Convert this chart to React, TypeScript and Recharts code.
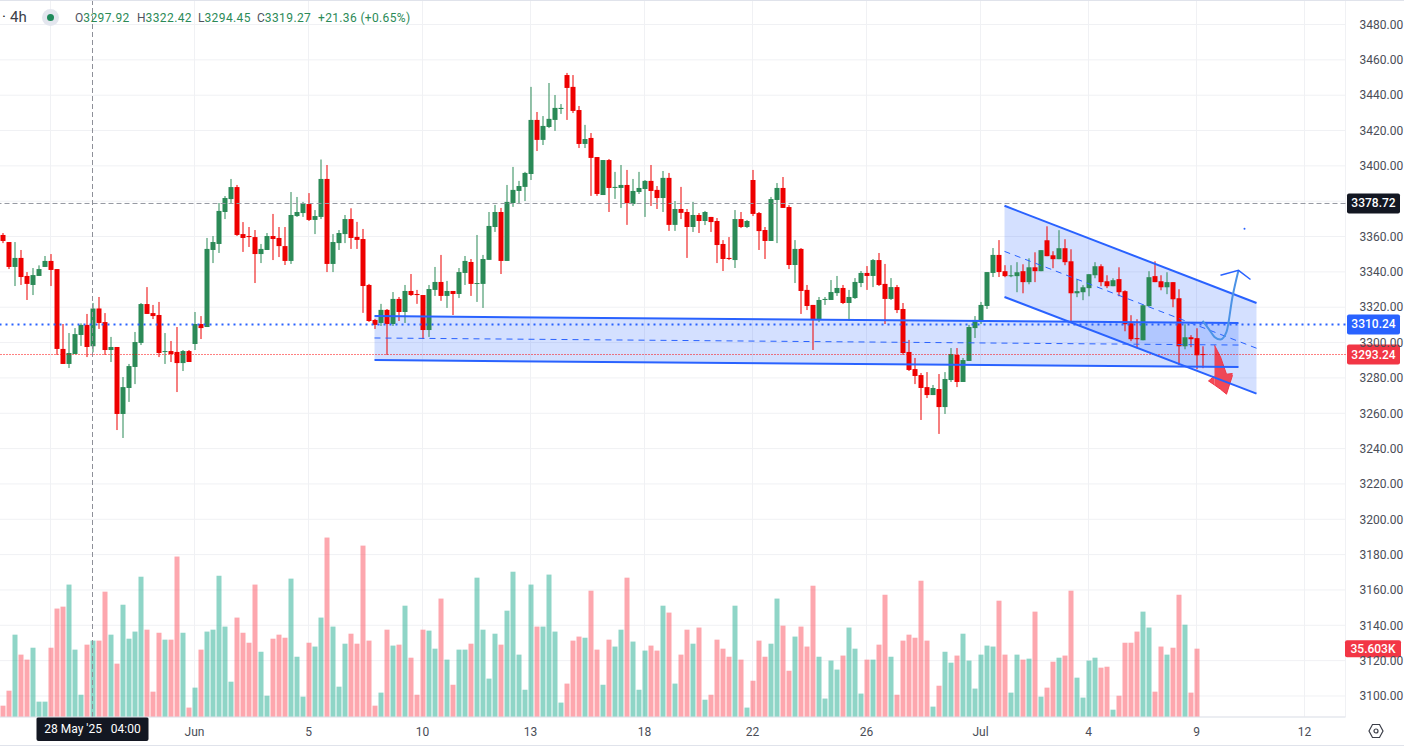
import React from "react";
import {
  Area,
  Bar,
  CartesianGrid,
  ComposedChart,
  Line,
  ReferenceDot,
  ReferenceLine,
  XAxis,
  YAxis,
} from "recharts";

// open, high, low, close for each 4h candle
const ohlc: number[][] = [
  [3360.9,3362.0,3356.3,3357.5],[3356.9,3356.9,3341.6,3342.8],[3342.8,3356.9,3332.0,3347.9],[3347.9,3352.4,3332.6,3337.1],
  [3337.7,3339.9,3324.1,3333.2],[3332.6,3342.2,3326.9,3338.2],[3337.7,3343.7,3337.7,3341.6],[3342.8,3349.0,3342.8,3346.2],
  [3346.2,3350.1,3332.0,3341.1],[3341.6,3341.6,3293.0,3296.4],[3296.4,3310.5,3287.9,3287.9],[3287.9,3305.4,3285.6,3294.1],
  [3293.5,3308.2,3293.5,3304.8],[3304.3,3310.9,3298.1,3310.0],[3310.0,3316.2,3291.8,3297.5],[3297.92,3322.42,3294.45,3319.27],
  [3319.3,3325.8,3307.7,3311.1],[3311.6,3316.7,3293.0,3295.8],[3295.8,3303.2,3289.0,3297.5],[3297.5,3297.5,3250.5,3259.6],
  [3259.6,3280.5,3246.0,3274.8],[3274.3,3287.9,3266.4,3286.7],[3286.2,3306.0,3276.5,3300.3],[3299.8,3322.4,3298.6,3321.8],
  [3321.8,3331.4,3316.2,3316.2],[3316.7,3321.3,3313.3,3315.0],[3315.6,3323.0,3291.8,3294.1],[3294.7,3305.4,3287.9,3295.2],
  [3295.2,3300.9,3289.0,3293.5],[3294.7,3308.8,3272.0,3288.4],[3288.4,3295.8,3283.9,3295.2],[3295.2,3295.8,3289.0,3289.0],
  [3299.2,3317.3,3295.8,3310.5],[3310.5,3315.0,3302.0,3308.2],[3308.8,3359.2,3308.8,3353.0],[3352.4,3360.3,3345.0,3356.9],
  [3355.8,3379.0,3350.7,3374.5],[3373.9,3382.9,3369.9,3381.8],[3381.2,3392.6,3379.0,3388.0],[3388.0,3389.2,3360.3,3360.9],
  [3361.4,3368.2,3351.3,3359.2],[3360.3,3365.4,3354.1,3359.7],[3359.7,3363.7,3333.7,3350.1],[3350.1,3355.8,3345.0,3353.0],
  [3352.4,3362.0,3352.4,3360.3],[3360.3,3372.8,3346.7,3358.6],[3359.2,3365.4,3348.4,3354.6],[3354.6,3365.4,3343.9,3346.2],
  [3346.2,3385.2,3344.5,3372.2],[3371.6,3382.4,3371.1,3373.9],[3373.3,3379.6,3371.1,3378.8],[3378.4,3384.6,3368.8,3369.4],
  [3369.4,3375.0,3361.4,3371.6],[3371.1,3403.6,3369.9,3392.6],[3392.6,3400.5,3339.9,3344.5],[3344.5,3361.4,3339.9,3356.9],
  [3356.3,3363.7,3352.4,3362.0],[3361.4,3372.2,3356.3,3369.9],[3369.9,3376.0,3353.0,3359.2],[3359.8,3368.3,3353.0,3358.1],
  [3358.6,3364.3,3316.8,3332.0],[3332.6,3333.2,3311.7,3312.2],[3312.8,3313.4,3307.7,3310.0],[3311.1,3321.9,3309.4,3318.5],
  [3318.5,3319.0,3293.0,3310.5],[3310.5,3328.6,3309.4,3324.7],[3324.7,3325.8,3312.2,3317.3],[3317.3,3332.6,3311.1,3329.2],
  [3329.2,3338.8,3326.4,3326.9],[3327.5,3329.8,3321.9,3326.9],[3326.9,3326.9,3302.0,3307.1],[3307.1,3332.6,3303.2,3330.3],
  [3329.8,3342.8,3326.4,3334.3],[3334.3,3349.6,3323.6,3326.4],[3326.4,3334.9,3319.6,3329.2],[3329.2,3329.2,3315.6,3327.5],
  [3327.5,3342.2,3325.2,3339.9],[3339.4,3349.0,3332.6,3346.2],[3345.6,3347.3,3326.4,3333.2],[3333.2,3360.9,3323.0,3333.7],
  [3333.2,3349.6,3319.6,3347.3],[3346.8,3373.9,3346.8,3366.0],[3365.4,3377.9,3362.6,3373.9],[3373.9,3376.2,3338.8,3346.2],
  [3346.2,3389.2,3346.2,3379.6],[3379.0,3399.4,3376.8,3386.4],[3385.8,3391.5,3378.4,3388.6],[3388.1,3396.6,3380.1,3396.0],
  [3395.4,3444.7,3392.0,3426.0],[3426.0,3430.5,3408.4,3414.7],[3414.7,3428.2,3411.8,3422.6],[3422.0,3446.9,3421.4,3426.6],
  [3426.0,3440.1,3419.8,3432.8],[3432.2,3435.0,3429.4,3432.8],[3451.4,3452.6,3426.0,3444.1],[3444.7,3451.4,3429.9,3431.1],
  [3431.6,3433.9,3410.1,3412.4],[3412.4,3423.2,3410.1,3415.2],[3415.8,3418.6,3383.0,3404.5],[3405.0,3405.0,3383.0,3384.1],
  [3383.5,3403.3,3383.5,3403.3],[3403.3,3403.9,3373.9,3387.5],[3387.5,3396.6,3381.3,3388.1],[3387.5,3400.5,3376.2,3389.2],
  [3389.2,3397.7,3366.6,3379.0],[3378.4,3392.6,3377.3,3385.8],[3385.2,3396.6,3384.1,3387.5],[3386.9,3392.0,3371.1,3391.5],
  [3391.5,3400.5,3377.3,3385.8],[3386.4,3388.6,3375.6,3381.8],[3381.8,3397.1,3373.9,3393.2],[3393.2,3396.0,3363.2,3366.6],
  [3366.6,3380.1,3363.2,3375.6],[3375.6,3388.1,3369.9,3373.4],[3373.9,3375.6,3347.9,3365.4],[3365.4,3379.6,3362.6,3372.2],
  [3372.2,3373.3,3362.0,3368.8],[3368.8,3374.5,3366.5,3373.9],[3371.1,3371.1,3362.6,3368.2],[3368.8,3370.5,3345.0,3355.2],
  [3355.8,3358.0,3340.5,3347.3],[3347.9,3359.7,3346.7,3347.3],[3346.7,3375.0,3342.2,3369.9],[3369.9,3373.9,3364.8,3365.4],
  [3365.4,3369.4,3364.8,3368.8],[3392.0,3397.7,3371.6,3372.8],[3373.3,3373.9,3352.4,3363.1],[3363.7,3365.4,3347.3,3357.5],
  [3357.5,3382.4,3357.5,3381.2],[3380.7,3390.3,3356.3,3387.5],[3387.5,3393.7,3376.2,3376.2],[3376.7,3377.8,3341.6,3343.9],
  [3343.9,3358.0,3333.7,3353.0],[3353.0,3353.5,3316.2,3329.2],[3329.8,3332.6,3318.4,3320.7],[3321.3,3321.3,3295.8,3312.8],
  [3312.8,3325.8,3311.6,3324.1],[3324.1,3325.8,3321.3,3324.7],[3324.1,3335.4,3324.1,3328.6],[3328.0,3337.7,3326.4,3330.9],
  [3330.9,3332.6,3321.8,3322.4],[3322.4,3329.8,3312.2,3325.8],[3325.2,3336.5,3324.7,3334.3],[3333.7,3340.5,3331.4,3339.4],
  [3339.4,3343.3,3329.8,3337.7],[3337.7,3347.3,3331.4,3346.7],[3346.7,3350.7,3332.0,3332.6],[3333.2,3344.5,3310.5,3324.7],
  [3324.7,3336.5,3324.1,3331.4],[3331.4,3332.6,3316.7,3318.4],[3319.0,3322.4,3293.0,3294.1],[3294.7,3301.5,3283.9,3284.5],
  [3285.0,3291.3,3276.5,3281.1],[3281.6,3282.8,3256.2,3274.3],[3274.8,3283.3,3268.6,3270.3],[3270.3,3276.0,3270.3,3274.3],
  [3273.7,3282.2,3248.3,3263.5],[3263.5,3283.3,3259.6,3279.4],[3278.8,3296.9,3277.7,3293.5],[3293.0,3296.9,3274.8,3277.7],
  [3277.7,3291.3,3277.7,3290.1],[3289.6,3310.0,3289.6,3308.8],[3308.2,3315.0,3302.6,3312.8],[3311.6,3323.0,3310.5,3321.3],
  [3320.7,3339.9,3319.0,3339.9],[3339.4,3353.5,3337.1,3349.6],[3349.6,3358.0,3337.1,3339.9],[3340.4,3343.8,3337.0,3337.6],
  [3337.6,3343.8,3337.0,3338.1],[3337.6,3345.5,3328.5,3339.8],[3340.4,3344.3,3327.9,3334.2],[3334.2,3347.7,3333.0,3342.6],
  [3342.6,3351.1,3334.2,3340.4],[3340.4,3352.3,3340.4,3352.3],[3357.9,3365.8,3348.9,3348.9],[3349.4,3351.7,3342.1,3347.2],
  [3347.2,3363.6,3347.2,3353.4],[3353.4,3358.5,3343.8,3345.5],[3346.0,3352.8,3311.5,3327.9],[3327.9,3335.8,3325.7,3329.1],
  [3328.5,3332.5,3324.0,3331.3],[3330.8,3338.7,3326.2,3338.7],[3338.1,3345.5,3336.4,3343.2],[3343.2,3344.3,3331.9,3334.2],
  [3334.7,3338.1,3330.8,3331.9],[3331.9,3336.4,3331.9,3335.3],[3335.9,3342.6,3326.2,3328.5],[3329.1,3329.6,3306.4,3310.4],
  [3310.9,3315.5,3300.8,3301.9],[3302.5,3313.2,3296.8,3301.9],[3301.3,3321.7,3301.3,3321.1],[3320.6,3340.4,3320.6,3337.0],
  [3337.6,3346.0,3334.2,3334.2],[3334.7,3338.1,3329.6,3331.3],[3331.3,3339.8,3327.4,3334.2],[3334.2,3334.2,3320.0,3324.5],
  [3325.1,3330.2,3287.2,3297.9],[3297.9,3310.4,3296.2,3303.0],[3303.0,3304.2,3297.4,3301.9],[3302.5,3308.1,3284.9,3292.8],
  [3293.5,3297.9,3285.5,3293.24],
];

// volume in thousands, one per candle (the newest candle has none drawn)
const volumes = [
  5.9,13.7,42.9,32.5,29.9,36.1,8.0,8.0,36.1,56.5,57.5,69.0,35.1,11.6,37.7,39.8,39.8,65.3,42.9,27.8,
  58.5,40.8,44.5,73.1,45.5,13.2,43.9,40.3,40.3,83.6,43.9,4.9,15.3,35.1,44.5,45.5,73.6,47.1,18.4,51.8,
  43.9,38.7,69.0,34.0,11.1,40.8,42.9,41.3,72.1,31.4,10.6,38.7,36.7,51.8,93.5,47.1,15.8,38.2,43.4,38.2,
  89.3,39.8,5.9,12.7,45.5,37.2,37.7,58.0,30.9,11.6,45.5,45.0,35.6,61.7,29.9,16.8,35.1,35.1,38.2,72.6,
  45.5,20.0,43.4,37.7,55.4,75.7,32.5,14.2,69.0,47.1,47.1,74.2,44.5,7.5,17.4,39.8,41.9,41.3,65.8,35.1,
  16.8,40.3,36.7,45.5,72.6,39.3,14.2,34.6,37.2,34.6,58.0,54.4,17.4,32.5,45.5,38.2,46.6,9.0,11.6,40.3,
  35.6,31.4,58.0,29.9,4.9,18.9,39.8,31.4,38.2,61.7,47.6,24.1,41.9,47.1,36.7,68.4,31.4,9.6,29.4,24.7,
  32.0,46.6,35.6,12.2,29.9,29.9,37.7,63.7,31.4,11.6,39.8,42.9,41.3,71.0,39.8,5.4,16.3,34.0,28.3,32.0,
  43.4,29.4,14.8,32.5,37.2,36.7,60.6,32.5,12.7,32.5,29.9,30.4,54.9,10.6,15.3,28.8,30.9,32.0,65.8,20.5,
  10.1,29.4,30.9,25.7,26.2,3.8,11.1,38.7,38.7,44.5,54.9,46.6,13.2,36.7,32.5,36.1,63.7,48.1,12.7,35.603,
];

const slotCount = 224;
const priceTicks = [
  3100,3120,3140,3160,3180,3200,3220,3240,3260,3280,3300,3320,3340,3360,3380,3400,3420,3440,3460,3480,
];
// 3380 sits under the last-price badge in the original, only its grid line shows
const hiddenPriceTick = 3380;
const dateTickSlots = [8, 32, 51, 70, 88, 107, 125, 144, 163, 181, 199, 217];
const dateTickLabels = ["", "Jun", "5", "10", "13", "18", "22", "26", "Jul", "4", "9", "12"];

// drawings: [start slot, end slot] and price at either end
const flatSlots = [62, 206];
const flatTop = [3315.0, 3311.1];
const flatMid = [3302.6, 3298.6];
const flatBottom = [3290.1, 3286.2];
const fallingSlots = [167, 209];
const fallingTop = [3377.4, 3322.4];
const fallingMid = [3351.6, 3296.8];
const fallingBottom = [3325.8, 3271.1];

const brushSlots = [200, 201, 202, 203, 204, 205, 206];
const brushPrices = [3312.3, 3307.9, 3303.2, 3301.7, 3306.0, 3325.9, 3340.9];
const arrowHeadSlots = [203, 206, 208];
const arrowHeadPrices = [3338.1, 3340.9, 3335.7];
const redArrowSlots = [202, 203, 204, 205];
const redArrowHigh = [3298.5, 3291.9, 3282.1, 3282.5];
const redArrowLow = [3276.0, 3273.6, 3270.8, 3281.5];
const redWingSlots = [201, 202];
const redWingHigh = [3278.3, 3281.0];
const redWingLow = [3278.3, 3276.0];

const rows = Array.from({ length: slotCount }, (_, idx) => {
  const c = ohlc[idx];
  const row: any = { idx };
  if (c) {
    row.o = c[0];
    row.h = c[1];
    row.l = c[2];
    row.c = c[3];
    row.range = [c[2], c[1]];
  }
  if (volumes[idx] !== undefined) {
    row.vol = volumes[idx];
    row.up = c[3] >= c[0];
  }
  return row;
});

const pin = (slots: number[], key: string, values: any[]) =>
  slots.forEach((slot, i) => {
    rows[slot][key] = values[i];
  });

pin(flatSlots, "flatBand", flatBottom.map((v, i) => [v, flatTop[i]]));
pin(flatSlots, "flatTop", flatTop);
pin(flatSlots, "flatMid", flatMid);
pin(flatSlots, "flatBottom", flatBottom);
pin(fallingSlots, "fallingBand", fallingBottom.map((v, i) => [v, fallingTop[i]]));
pin(fallingSlots, "fallingTop", fallingTop);
pin(fallingSlots, "fallingMid", fallingMid);
pin(fallingSlots, "fallingBottom", fallingBottom);
pin(brushSlots, "brush", brushPrices);
pin(arrowHeadSlots, "arrowHead", arrowHeadPrices);
pin(redArrowSlots, "redArrow", redArrowLow.map((v, i) => [v, redArrowHigh[i]]));
pin(redWingSlots, "redWing", redWingLow.map((v, i) => [v, redWingHigh[i]]));

const UP = "#2B8A57";
const DOWN = "#EE0000";
const BLUE = "#2962FF";
const FONT = "Roboto, sans-serif";

const Candle = ({ x, y, width, height, payload }: any) => {
  if (!payload || payload.o === undefined) return null;
  const { o, h, l, c } = payload;
  const top = height < 0 ? y + height : y;
  const ppu = Math.abs(height) / (h - l);
  const color = c >= o ? UP : DOWN;
  const bodyTop = top + (h - Math.max(o, c)) * ppu;
  const bodyH = Math.max(Math.abs(o - c) * ppu, 1);
  return (
    <g>
      <rect x={x + width / 2 - 0.5} y={top} width={1} height={Math.abs(height)} fill={color} />
      <rect x={x} y={bodyTop} width={width} height={bodyH} fill={color} />
    </g>
  );
};

const VolumeBar = ({ x, y, width, height, payload }: any) => {
  if (!payload || payload.vol === undefined) return null;
  return (
    <rect
      x={x}
      y={y}
      width={width}
      height={height}
      fill={payload.up ? "#1FAB8F" : "#FB4F5D"}
      fillOpacity={0.5}
    />
  );
};

const badge = (text: string, fill: string, left = 1347, w = 53, h = 20) => (props: any) => {
  const cy = props.viewBox.y;
  return (
    <g>
      <rect x={left} y={cy - h / 2} width={w} height={h} rx={2} fill={fill} />
      <text
        x={left + w / 2}
        y={cy + 4}
        textAnchor="middle"
        fill="#fff"
        fontSize={12}
        fontWeight={500}
        fontFamily={FONT}
      >
        {text}
      </text>
    </g>
  );
};

const dateBadge = (props: any) => {
  const cx = props.viewBox.x;
  return (
    <g>
      <rect x={cx - 56} y={717} width={112} height={24} rx={2} fill="#131722" />
      <text x={cx} y={733} textAnchor="middle" fill="#fff" fontSize={12} fontFamily={FONT} xmlSpace="preserve">
        {"28 May '25   04:00"}
      </text>
    </g>
  );
};

const headerItems = [
  { left: 75, label: "O", value: "3297.92" },
  { left: 137, label: "H", value: "3322.42" },
  { left: 198, label: "L", value: "3294.45" },
  { left: 257, label: "C", value: "3319.27" },
];

const Header = () => (
  <div style={{ position: "absolute", left: 0, top: 0, width: 420, height: 34, fontFamily: FONT }}>
    <span style={{ position: "absolute", left: 2, top: 8, fontSize: 15, color: "#131722" }}>·</span>
    <span style={{ position: "absolute", left: 10, top: 8, fontSize: 15, color: "#3b3e48" }}>4h</span>
    <span
      style={{
        position: "absolute",
        left: 42,
        top: 9,
        width: 17,
        height: 17,
        borderRadius: "50%",
        background: "#E3E6EE",
      }}
    />
    <span
      style={{
        position: "absolute",
        left: 47,
        top: 14,
        width: 7,
        height: 7,
        borderRadius: "50%",
        background: "#1F8A5B",
      }}
    />
    {headerItems.map((it) => (
      <span key={it.label} style={{ position: "absolute", left: it.left, top: 11, fontSize: 12, color: "#50535E" }}>
        {it.label}
        <span style={{ color: UP, letterSpacing: 0.4 }}>{it.value}</span>
      </span>
    ))}
    <span style={{ position: "absolute", left: 318, top: 11, fontSize: 12, color: UP, letterSpacing: 0.35 }}>
      +21.36 (+0.65%)
    </span>
  </div>
);

const SettingsIcon = () => (
  <svg style={{ position: "absolute", left: 1368, top: 723 }} width={16} height={16} viewBox="0 0 16 16">
    <path d="M4.5 1.5h7L15 8l-3.5 6.5h-7L1 8z" fill="none" stroke="#3b3e48" strokeWidth={1.2} />
    <circle cx={8} cy={8} r={2} fill="none" stroke="#3b3e48" strokeWidth={1.2} />
  </svg>
);

const line = { xAxisId: "candles", yAxisId: "price", dot: false, activeDot: false, connectNulls: true, isAnimationActive: false, legendType: "none" } as any;

export default function App() {
  return (
    <div style={{ position: "absolute", left: 0, top: 0, width: 1404, height: 746, background: "#fff", overflow: "hidden" }}>
      <ComposedChart width={1404} height={746} data={rows} margin={{ top: 0, right: 0, bottom: 0, left: -0.5 }}>
        <CartesianGrid xAxisId="candles" yAxisId="price" stroke="#F0F1F4" />
        <XAxis
          xAxisId="candles"
          dataKey="idx"
          ticks={dateTickSlots}
          interval={0}
          height={29}
          padding={{ left: 0, right: 2 }}
          axisLine={{ stroke: "#E0E3EB" }}
          tickLine={false}
          tickMargin={4}
          tick={{ fill: "#4A4D57", fontSize: 12, fontFamily: FONT }}
          tickFormatter={(v: number) => dateTickLabels[dateTickSlots.indexOf(v)]}
        />
        <XAxis xAxisId="volume" dataKey="idx" hide padding={{ left: 0, right: 2 }} />
        <YAxis
          yAxisId="price"
          orientation="right"
          width={58.5}
          domain={[3088.1, 3493.87]}
          ticks={priceTicks}
          interval={0}
          allowDataOverflow
          axisLine={false}
          tickLine={false}
          tickMargin={8}
          tick={{ fill: "#4A4D57", fontSize: 12, fontFamily: FONT }}
          tickFormatter={(v: number) => (v === hiddenPriceTick ? "" : v.toFixed(2))}
        />
        <YAxis yAxisId="vol" hide domain={[0, 373.6]} allowDataOverflow />

        <Bar xAxisId="volume" yAxisId="vol" dataKey="vol" barSize={5} shape={<VolumeBar />} isAnimationActive={false} />

        <Area {...line} type="linear" dataKey="flatBand" stroke="none" fill={BLUE} fillOpacity={0.2} />
        <Area {...line} type="linear" dataKey="fallingBand" stroke="none" fill={BLUE} fillOpacity={0.2} />

        <ReferenceLine xAxisId="candles" x={15} yAxisId="price" stroke="#8E9099" strokeDasharray="5 3" label={dateBadge} />
        <ReferenceLine xAxisId="candles" yAxisId="price" y={3378.72} stroke="#9598A1" strokeDasharray="5 3" label={badge("3378.72", "#131722")} />
        <ReferenceLine xAxisId="candles" yAxisId="price" y={3310.24} stroke={BLUE} strokeWidth={2} strokeDasharray="2 4" label={badge("3310.24", BLUE)} />
        <ReferenceLine xAxisId="candles" yAxisId="price" y={3293.24} stroke="#F00" strokeDasharray="1 2" label={badge("3293.24", "#F23645")} />
        <ReferenceLine xAxisId="candles" yAxisId="vol" y={35.603} stroke="none" label={badge("35.603K", "#F23645", 1345, 56, 17)} />

        <Bar xAxisId="candles" yAxisId="price" dataKey="range" barSize={5} shape={<Candle />} isAnimationActive={false} />

        <Line {...line} type="linear" dataKey="flatTop" stroke={BLUE} strokeWidth={2} />
        <Line {...line} type="linear" dataKey="flatBottom" stroke={BLUE} strokeWidth={2} />
        <Line {...line} type="linear" dataKey="flatMid" stroke={BLUE} strokeWidth={1} strokeDasharray="6 5" />
        <Line {...line} type="linear" dataKey="fallingTop" stroke={BLUE} strokeWidth={2} />
        <Line {...line} type="linear" dataKey="fallingBottom" stroke={BLUE} strokeWidth={2} />
        <Line {...line} type="linear" dataKey="fallingMid" stroke={BLUE} strokeWidth={1} strokeDasharray="6 5" />
        <Line {...line} type="monotone" dataKey="brush" stroke="#4C93E6" strokeWidth={2} />
        <Line {...line} type="linear" dataKey="arrowHead" stroke={BLUE} strokeWidth={1.5} />
        <Area {...line} type="linear" dataKey="redArrow" stroke="#F23645" strokeWidth={1} fill="#F23645" fillOpacity={0.9} />
        <Area {...line} type="linear" dataKey="redWing" stroke="#F23645" strokeWidth={1} fill="#F23645" fillOpacity={0.9} />
        <ReferenceDot xAxisId="candles" yAxisId="price" x={207} y={3364.4} r={1} fill={BLUE} stroke="none" />
      </ComposedChart>
      <Header />
      <SettingsIcon />
      <div style={{ position: "absolute", left: 0, top: 0, width: 1404, height: 1, background: "#E0E3EB" }} />
      <div style={{ position: "absolute", left: 0, top: 745, width: 1404, height: 1, background: "#E0E3EB" }} />
    </div>
  );
}
